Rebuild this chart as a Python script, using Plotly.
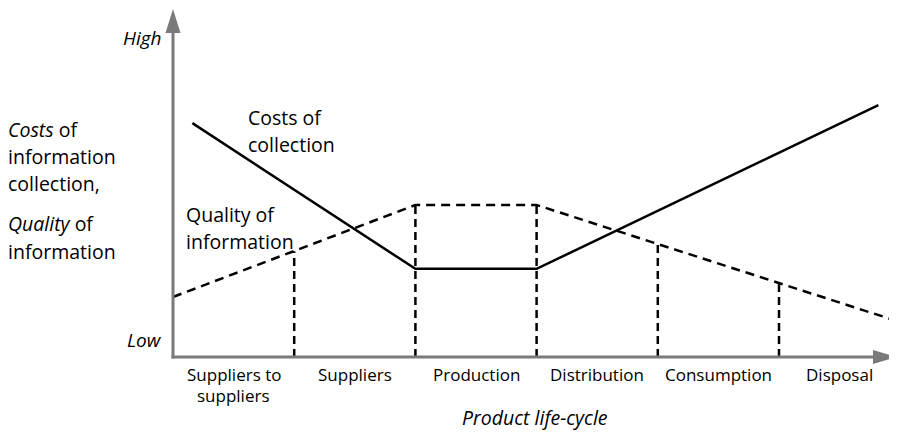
import plotly.graph_objects as go

# life-cycle stages along the x axis (one unit per stage)
stages = ["Suppliers to<br>suppliers", "Suppliers", "Production",
          "Distribution", "Consumption", "Disposal"]

# costs of collection (solid line), level 0 = low .. 100 = high
costs_x = [0.16, 2.0, 3.0, 5.82]
costs_y = [67.4, 25.4, 25.4, 72.6]

# quality of information (dashed line)
quality_x = [0.0, 2.0, 3.0, 5.97]
quality_y = [17.3, 43.8, 43.8, 10.4]

# vertical dashed dividers between stages, up to the quality line
divider_x = [1, 2, 3, 4, 5]
divider_top = [30.5, 43.8, 43.8, 32.6, 21.3]

W, H = 897, 432
PAD = 8               # page body margin around the figure
X0, XS = 173, 121.2   # pixel of x=0 and pixels per stage
Y0, YS = 357, 3.47    # pixel of y=0 and pixels per level unit


def px(p):
    return (p - X0) / XS


def py(p):
    return (Y0 - p) / YS


FONT = "Open Sans"
AXIS_COL = "#7a7a7a"

fig = go.Figure()

for xd, top in zip(divider_x, divider_top):
    fig.add_trace(go.Scatter(x=[xd, xd], y=[0, top], mode="lines",
                             line=dict(color="black", width=2.5, dash="8px,5px"),
                             hoverinfo="skip", showlegend=False))

fig.add_trace(go.Scatter(x=quality_x, y=quality_y, mode="lines",
                         line=dict(color="black", width=2.5, dash="9px,6px"),
                         name="Quality of information", showlegend=False))
fig.add_trace(go.Scatter(x=costs_x, y=costs_y, mode="lines",
                         line=dict(color="black", width=2.5),
                         name="Costs of collection", showlegend=False))

shapes = [
    # y axis + arrow
    dict(type="line", x0=px(173), y0=py(358.5), x1=px(173), y1=py(30),
         line=dict(color=AXIS_COL, width=3)),
    dict(type="path", path=f"M {px(173)},{py(9)} L {px(180.5)},{py(33)} L {px(165.5)},{py(33)} Z",
         fillcolor=AXIS_COL, line=dict(width=0)),
    # x axis + arrow
    dict(type="line", x0=px(171.5), y0=py(357), x1=px(876), y1=py(357),
         line=dict(color=AXIS_COL, width=3)),
    dict(type="path", path=f"M {px(896)},{py(357)} L {px(873)},{py(350)} L {px(873)},{py(364)} Z",
         fillcolor=AXIS_COL, line=dict(width=0)),
]

ann = []


def txt(text, x, y, size=19.5, xanchor="left", italic=False, xshift=0):
    ann.append(dict(text=f"<i>{text}</i>" if italic else text,
                    x=px(x), y=py(y), xref="x", yref="y", showarrow=False,
                    xanchor=xanchor, yanchor="middle", xshift=xshift,
                    font=dict(family=FONT, size=size, color="black")))


txt("High", 164, 38, size=19, xanchor="right", italic=True)
txt("Low", 164, 340, size=19, xanchor="right", italic=True)

left_lines = ["<i>Costs</i> of", "information", "collection,",
              "<i>Quality</i> of", "information"]
left_y = [129, 156, 183, 223, 251]
for t, yy in zip(left_lines, left_y):
    txt(t, 12, yy, xshift=-6)

txt("Costs of", 246, 117)
txt("collection", 246, 144)
txt("Quality of", 184, 214)
txt("information", 184, 241)

for i, s in enumerate(stages):
    lines = s.split("<br>")
    for j, ln in enumerate(lines):
        ann.append(dict(text=ln, x=i + 0.5, y=py(374 + 21 * j), xref="x", yref="y",
                        showarrow=False, xanchor="center", yanchor="middle",
                        font=dict(family=FONT, size=17, color="black")))

txt("Product life-cycle", 535, 417, size=19.5, xanchor="center", italic=True)

fig.update_layout(
    width=W - PAD, height=H - PAD,
    margin=dict(l=0, r=0, t=0, b=0),
    paper_bgcolor="white", plot_bgcolor="white",
    xaxis=dict(range=[px(PAD), px(W)], visible=False, fixedrange=True),
    yaxis=dict(range=[py(H), py(PAD)], visible=False, fixedrange=True),
    shapes=shapes, annotations=ann, showlegend=False,
)

fig.write_html("out.html")
